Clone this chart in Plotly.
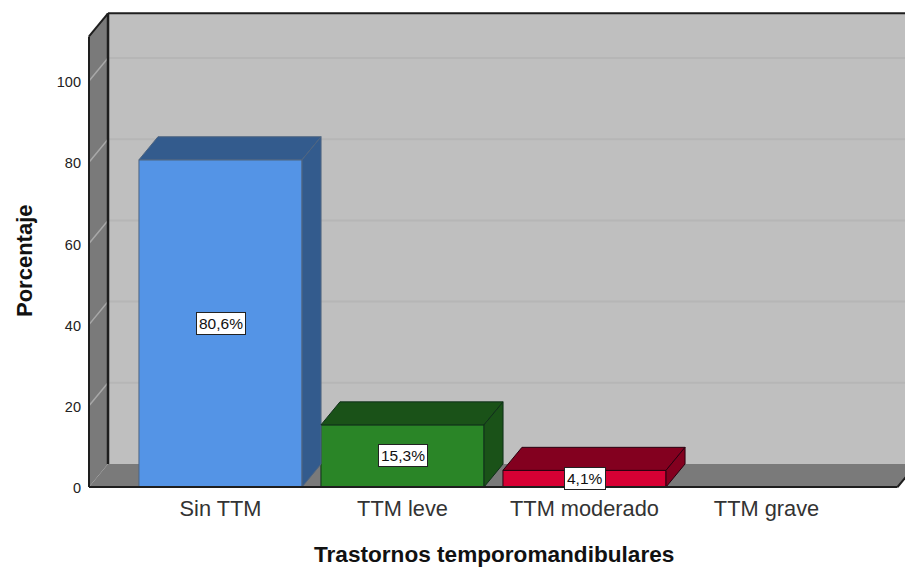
import plotly.graph_objects as go

categories = ["Sin TTM", "TTM leve", "TTM moderado", "TTM grave"]
values = [80.6, 15.3, 4.1, 0]
labels = ["80,6%", "15,3%", "4,1%", None]
y_ticks = [0, 20, 40, 60, 80, 100]
front_colors = ["#5494E6", "#2A8527", "#D70034"]
shade_colors = ["#335B8D", "#1A5218", "#83001F"]
edge_colors = ["#4F6580", "#10301A", "#2A0010"]

WALL = "#BFBFBF"
SIDE = "#7A7A7A"
EDGE = "#1E1E1E"
DX, DY = 0.1044, 5.67      # oblique depth of the fake 3D box
BAR_W = 0.896
X_LEFT, X_RIGHT = -0.7225, 3.82
X_FRONT_END = 3.72
Y_TOP = 111.0

fig = go.Figure()

xs = list(range(len(categories)))
bar_y = [v if v > 0 else None for v in values]
fig.add_trace(go.Bar(
    x=xs, y=bar_y, width=BAR_W,
    marker=dict(color=front_colors + ["rgba(0,0,0,0)"],
                line=dict(color=edge_colors + ["rgba(0,0,0,0)"], width=1)),
    hoverinfo="skip", showlegend=False))

for i, v in enumerate(values):
    if v <= 0:
        continue
    l, r = i - BAR_W / 2, i + BAR_W / 2
    fig.add_trace(go.Scatter(
        x=[l, l + DX, r + DX, r, l], y=[v, v + DY, v + DY, v, v],
        mode="lines", fill="toself", fillcolor=shade_colors[i],
        line=dict(color=edge_colors[i], width=1), hoverinfo="skip", showlegend=False))
    fig.add_trace(go.Scatter(
        x=[r, r + DX, r + DX, r, r], y=[v, v + DY, DY, 0, v],
        mode="lines", fill="toself", fillcolor=shade_colors[i],
        line=dict(color=edge_colors[i], width=1), hoverinfo="skip", showlegend=False))

shapes = [
    # back wall
    dict(type="rect", x0=X_LEFT + DX, x1=X_RIGHT + 1, y0=DY, y1=Y_TOP + DY,
         fillcolor=WALL, line_width=0, layer="below"),
    # floor
    dict(type="path", path=f"M {X_LEFT} 0 L {X_LEFT+DX} {DY} L {X_RIGHT+1} {DY} L {X_FRONT_END+DX} {DY} L {X_FRONT_END} 0 Z",
         fillcolor=SIDE, line_width=0, layer="below"),
    # left wall
    dict(type="path", path=f"M {X_LEFT} 0 L {X_LEFT+DX} {DY} L {X_LEFT+DX} {Y_TOP+DY} L {X_LEFT} {Y_TOP} Z",
         fillcolor=SIDE, line_width=0, layer="below"),
]
for t in y_ticks[1:]:
    shapes.append(dict(type="line", x0=X_LEFT + DX, x1=X_RIGHT + 1, y0=t + DY, y1=t + DY,
                       line=dict(color="#B6B6B6", width=2), layer="below"))
    shapes.append(dict(type="line", x0=X_LEFT, x1=X_LEFT + DX, y0=t, y1=t + DY,
                       line=dict(color="#A8A8A8", width=1.5), layer="below"))
edge = dict(color=EDGE, width=2)
shapes += [
    dict(type="line", x0=X_LEFT, x1=X_LEFT, y0=0, y1=Y_TOP, line=edge, layer="below"),
    dict(type="line", x0=X_LEFT + DX, x1=X_LEFT + DX, y0=DY, y1=Y_TOP + DY, line=dict(color=EDGE, width=2.5), layer="below"),
    dict(type="line", x0=X_LEFT, x1=X_LEFT + DX, y0=Y_TOP, y1=Y_TOP + DY, line=edge, layer="below"),
    dict(type="line", x0=X_LEFT + DX, x1=X_RIGHT + 1, y0=Y_TOP + DY, y1=Y_TOP + DY, line=edge, layer="below"),
    dict(type="line", x0=X_LEFT, x1=X_FRONT_END, y0=0, y1=0, line=edge, layer="above"),
    dict(type="line", x0=X_FRONT_END, x1=X_FRONT_END + DX, y0=0, y1=DY, line=edge, layer="below"),
]

FONT = "Liberation Sans, Arial, sans-serif"
annotations = []
for i, (v, lab) in enumerate(zip(values, labels)):
    if lab:
        annotations.append(dict(x=i, y=v / 2, xref="x", yref="y", text=lab, showarrow=False,
                                font=dict(family=FONT, size=15.5, color="#111111"),
                                bgcolor="white", bordercolor="#222222", borderwidth=1, borderpad=2))
annotations += [
    dict(text="<b>Trastornos temporomandibulares</b>", xref="paper", yref="paper",
         x=(493.5 - 84) / 821, y=-(554 - 491) / 481, xanchor="center", yanchor="middle", showarrow=False,
         font=dict(family=FONT, size=22.6, color="#111111")),
    dict(text="<b>Porcentaje</b>", xref="paper", yref="paper", textangle=-90,
         x=-(84 - 24) / 821, y=(491 - 261) / 481, xanchor="center", yanchor="middle", showarrow=False,
         font=dict(family=FONT, size=22, color="#111111")),
]

fig.update_layout(
    width=905, height=567, autosize=False,
    margin=dict(l=84, r=0, t=10, b=76),
    paper_bgcolor="white", plot_bgcolor="white",
    shapes=shapes, annotations=annotations, showlegend=False,
    xaxis=dict(range=[-0.75, 3.7610], tickmode="array", tickvals=xs, ticktext=categories,
               showgrid=False, zeroline=False, showline=False, ticks="",
               tickfont=dict(family=FONT, size=21.8, color="#333333"), ticklabelstandoff=2),
    yaxis=dict(range=[-0.985, 117.5], tickmode="array", tickvals=y_ticks,
               showgrid=False, zeroline=False, showline=False, ticks="",
               tickfont=dict(family=FONT, size=14.5, color="#222222"), ticklabelstandoff=2, ticklabelshift=1),
)
fig.write_html("out.html", config={"displayModeBar": False},
               post_script="document.body.style.margin='0';document.body.style.overflow='hidden';")
